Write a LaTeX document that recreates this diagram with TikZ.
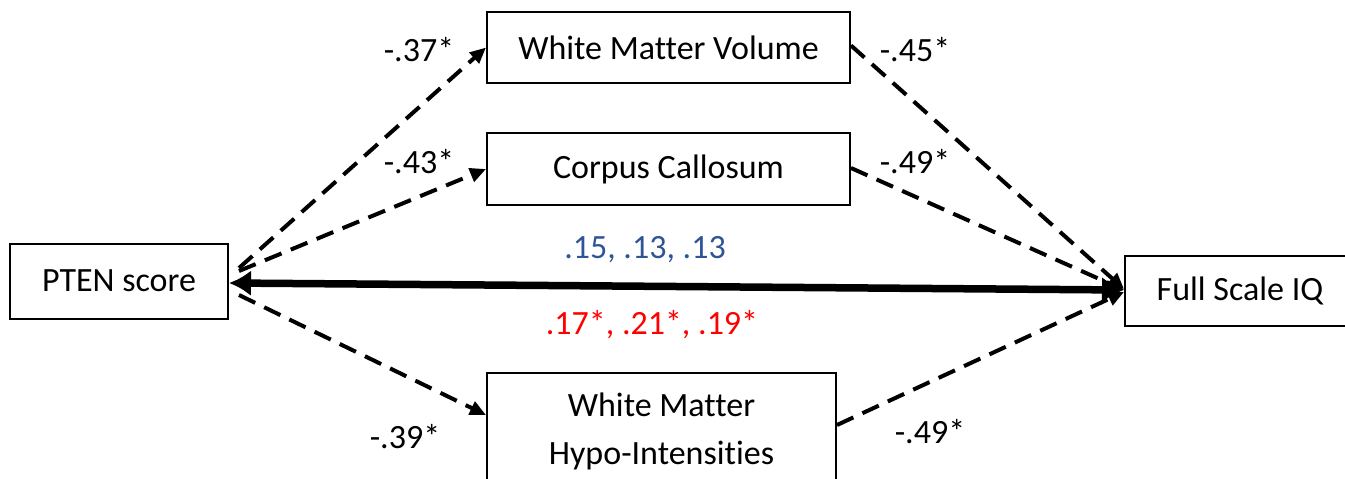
\documentclass[tikz,border=0pt]{standalone}
\usepackage{fontspec}
\setmainfont[Ligatures=NoCommon]{Carlito}
\usetikzlibrary{arrows.meta}
\definecolor{coefblue}{HTML}{2F5597}
\definecolor{coefred}{HTML}{FF0000}
\begin{document}
\begin{tikzpicture}[x=1pt,y=-1pt,
  every node/.style={font=\fontsize{34}{45}\selectfont},
  varbox/.style={draw=black,line width=2pt,inner sep=0pt,align=center},
  pathlink/.style={line width=4pt,dash pattern=on 18pt off 10pt,
    -{Triangle[length=16pt,width=14pt]}},
  directlink/.style={line width=7.5pt,
    {Latex[length=22pt,width=26pt]}-{Latex[length=22pt,width=26pt]}},
  coef/.style={inner sep=1pt}]
\useasboundingbox (0,0) rectangle (1345,479);

% variables
\node[varbox,minimum width=218pt,minimum height=75pt] (pten) at (119,281) {PTEN score};
\node[varbox,minimum width=363pt,minimum height=71pt] (wmv) at (668.5,47.5) {White Matter Volume};
\node[varbox,minimum width=363pt,minimum height=72pt] (cc) at (668.5,169) {Corpus Callosum};
\node[varbox,minimum width=349pt,minimum height=116pt] (wmhi) at (661.5,431) {White Matter\\[3pt]Hypo-Intensities};
\node[varbox,minimum width=230pt,minimum height=70pt] (fsiq) at (1240,291) {Full Scale IQ};

% indirect paths through the white matter measures
\draw[pathlink] ([xshift=10pt,yshift=13pt]pten.east) -- (wmv.west);
\draw[pathlink] ([xshift=10pt,yshift=10pt]pten.east) -- (cc.west);
\draw[pathlink] ([xshift=10pt,yshift=-14pt]pten.east) -- ([yshift=16pt]wmhi.west);
\draw[pathlink] ([yshift=2pt]wmv.east) -- ([yshift=2pt]fsiq.west);
\draw[pathlink] ([yshift=1pt]cc.east) -- ([yshift=1pt]fsiq.west);
\draw[pathlink] ([yshift=6pt]wmhi.east) -- ([yshift=-1pt]fsiq.west);

% direct association
\draw[directlink] ([yshift=-2pt]pten.east) -- ([yshift=1pt]fsiq.west);

% coefficients
\node[coef] (c1) at (419,50) {-.37*};
\node[coef] (c2) at (419,162) {-.43*};
\node[coef] (c3) at (915,50) {-.45*};
\node[coef] (c4) at (915,162) {-.49*};
\node[coef,text=coefblue] (c5) at (645,250) {.15, .13, .13};
\node[coef,text=coefred] (c6) at (652,325) {.17*, .21*, .19*};
\node[coef] (c7) at (405,437) {-.39*};
\node[coef] (c8) at (930,432) {-.49*};
\end{tikzpicture}
\end{document}
